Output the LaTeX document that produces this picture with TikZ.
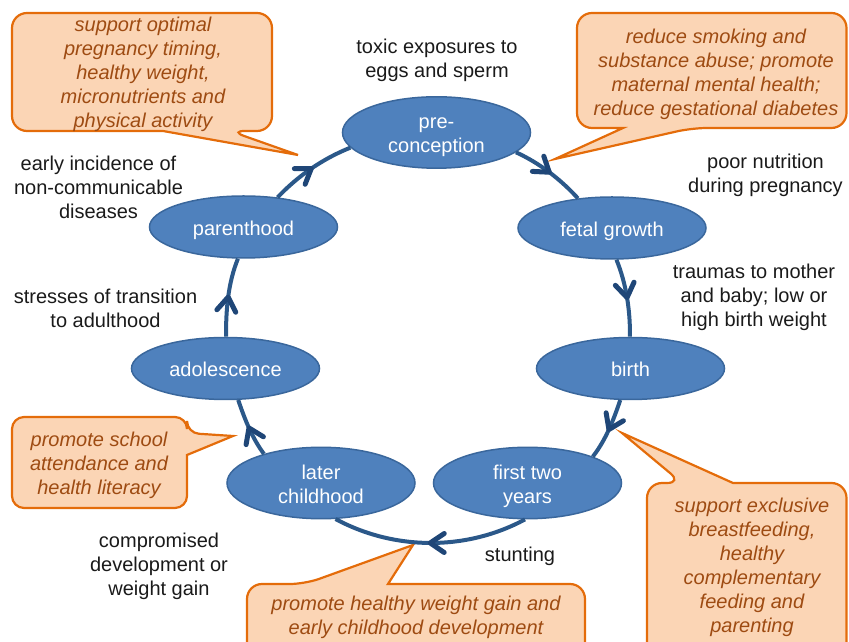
\documentclass[tikz,border=0pt]{standalone}
\usepackage{fontspec}
\setmainfont{Liberation Sans}
\usetikzlibrary{arrows.meta,decorations.markings,shapes.geometric}
\definecolor{nodefill}{HTML}{4F81BD}
\definecolor{nodeline}{HTML}{3A679C}
\definecolor{cycline}{HTML}{2B5889}
\definecolor{arrowcol}{HTML}{1F4677}
\definecolor{callfill}{HTML}{FBD5B5}
\definecolor{callline}{HTML}{E46C0A}
\definecolor{calltext}{HTML}{9E4B12}
\definecolor{labeltext}{HTML}{1A1A1A}
\newcommand\tstr{\rule{0pt}{21.5pt}}
\newcommand\bstr{\rule[-5pt]{0pt}{5pt}}
\begin{document}
\begin{tikzpicture}[x=1pt,y=1pt,
  stage/.style={ellipse, draw=nodeline, line width=1.5pt, fill=nodefill, text=white,
    minimum width=188pt, minimum height=62pt, inner sep=0pt, align=center,
    font=\fontsize{20}{24}\selectfont},
  lbl/.style={text=labeltext, align=center, inner sep=0pt, font=\fontsize{20}{24}\selectfont},
  calltxt/.style={text=calltext, align=center, inner sep=0pt, font=\fontsize{20}{24}\selectfont\itshape},
  callshape/.style={draw=callline, fill=callfill, line width=2.2pt},
  chevron/.style={draw=arrowcol, line width=5pt, line cap=round, line join=round},
  midarrow/.style={postaction={decorate, decoration={markings,
    mark=at position 0.5 with {\draw[chevron] (-14pt,9.5pt) -- (0pt,0pt) -- (-14pt,-9.5pt);}}}},
  cyc/.style={draw=cycline, line width=4pt, midarrow}]
\useasboundingbox (0,0) rectangle (849,642);
\clip (0,0) rectangle (849,642);

% callout shapes
\draw[callshape, rounded corners=15pt] (142,629) -- (272,629) -- (272,511) -- (230,511) [sharp corners] -- (298,487) -- (163,511) [rounded corners=15pt] -- (12,511) -- (12,629) -- cycle;
\draw[callshape, rounded corners=15pt] (711,629) -- (846.5,629) -- (846.5,514) -- (692,514) [sharp corners] -- (555,483) -- (623,514) [rounded corners=15pt] -- (577,514) -- (577,629) -- cycle;
\draw[callshape, rounded corners=12pt] (100,225) -- (187,225) -- (187,209) [sharp corners] -- (233,206) -- (187,187) [rounded corners=12pt] -- (187,134) -- (12,134) -- (12,225) -- cycle;
\draw[callshape, rounded corners=15pt] (416,58) -- (585,58) -- (585,-30) -- (247,-30) -- (247,58) -- (305,58) [sharp corners] -- (413,97) -- (388,58) [rounded corners=15pt] -- cycle;
\draw[callshape, rounded corners=15pt] (790,159) -- (846.5,159) -- (846.5,-30) -- (647,-30) -- (647,159) -- (682,159) [sharp corners] -- (622,209) -- (733,159) [rounded corners=15pt] -- cycle;

% callout texts
\node[calltxt] (c1) at (143,568) {support optimal\\pregnancy timing,\\healthy weight,\\micronutrients and\\physical activity};
\node[calltxt] (c2) at (716,568) {reduce smoking and\\substance abuse; promote\\maternal mental health;\\reduce gestational diabetes};
\node[calltxt] (c3) at (99,177) {promote school\\attendance and\\health literacy};
\node[calltxt] (c4) at (416,24.5) {promote healthy weight gain and\\early childhood development};
\node[calltxt] (c5) at (752,75) {support exclusive\\breastfeeding,\\healthy\\complementary\\feeding and\\parenting};

% risk labels
\node[lbl] (l1) at (437,582) {toxic exposures to\\eggs and sperm};
\node[lbl] (l2) at (765.5,466.5) {poor nutrition\\during pregnancy};
\node[lbl] (l3) at (754,345) {traumas to mother\\and baby; low or\\high birth weight};
\node[lbl] (l4) at (98.5,454.5) {early incidence of\\non-communicable\\diseases};
\node[lbl] (l5) at (105.5,333.5) {stresses of transition\\to adulthood};
\node[lbl] (l6) at (159,75.5) {compromised\\development or\\weight gain};
\node[lbl] (l7) at (520,86) {stunting};

% stages
\node[stage] (pre) at (436.5,509.5) {\tstr pre-\\conception\bstr};
\node[stage] (fetal) at (612,414) {\tstr fetal growth\bstr};
\node[stage] (birth) at (630.5,273.5) {\tstr birth\bstr};
\node[stage] (ftwo) at (527.5,159) {\tstr first two\\years\bstr};
\node[stage] (later) at (321,159) {\tstr later\\childhood\bstr};
\node[stage] (adol) at (225.5,273.5) {\tstr adolescence\bstr};
\node[stage] (parent) at (243.5,415) {\tstr parenthood\bstr};

% cycle connectors
\draw[cyc] (parent.41) to[out=46.6,in=201.7,looseness=.86] (pre.190);
\draw[cyc] (pre.-14) to[out=-24.6,in=132.3,looseness=.86] (fetal.139);
\draw[cyc] (fetal.-82) to[out=-67.9,in=89.3,looseness=.86] (birth.91);
\draw[cyc] (birth.-108) to[out=-108.6,in=52.1,looseness=.86] (ftwo.22);
\draw[cyc] (ftwo.-94) to[out=-151.7,in=-28.3,looseness=.9] (later.-68);
\draw[cyc] (later.153) to[out=126.5,in=-71.3,looseness=.86] (adol.-68);
\draw[cyc] (adol.89) to[out=90.4,in=-112.1,looseness=.86] (parent.-100);
\end{tikzpicture}
\end{document}
